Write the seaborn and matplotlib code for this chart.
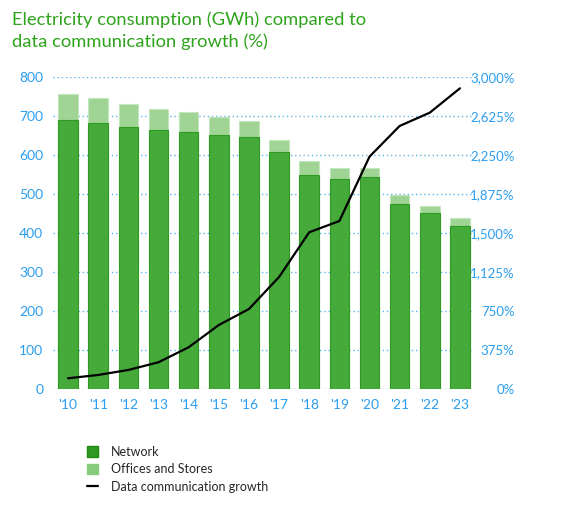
import numpy as np
import pandas as pd
import matplotlib.pyplot as plt
import seaborn as sns
from matplotlib.patches import Patch
from matplotlib.lines import Line2D

# data
years = ["'10", "'11", "'12", "'13", "'14", "'15", "'16", "'17", "'18", "'19", "'20", "'21", "'22", "'23"]
network = [689, 682, 672, 664, 659, 650, 645, 608, 548, 539, 544, 475, 450, 419]
total = [757, 746, 732, 719, 710, 697, 687, 639, 585, 567, 567, 498, 468, 438]
growth = [103, 135, 183, 257, 401, 615, 769, 1077, 1507, 1615, 2234, 2529, 2657, 2891]

left_ticks = [0, 100, 200, 300, 400, 500, 600, 700, 800]
right_ticks = [0, 375, 750, 1125, 1500, 1875, 2250, 2625, 3000]

blue = "#2b9ef0"
dark_green = "#2e9a22"
green = "#45aa39"
light_green = "#9fd495"
title_green = "#2ea31c"

df = pd.DataFrame({"year": years, "network": network, "total": total, "growth": growth})

sns.set_style("white")
plt.rcParams['font.family'] = ['Lato', 'DejaVu Sans']

fig = plt.figure(figsize=(5.76, 5.17), dpi=100)
ax = fig.add_axes([0.092, 0.2476, 0.729, 0.6035])

sns.barplot(data=df, x="year", y="total", color=light_green, saturation=1,
            width=0.65, edgecolor="#c4e6bd", linewidth=0.8, ax=ax)
sns.barplot(data=df, x="year", y="network", color=green, saturation=1,
            width=0.65, edgecolor=dark_green, linewidth=0.8, ax=ax)

ax.set_xlim(-0.5, 13.43)
ax.set_ylim(0, 800)
ax.set_yticks(left_ticks)
ax.set_yticklabels([str(t) for t in left_ticks])
ax.set_xlabel("")
ax.set_ylabel("")
ax.grid(axis="y", color="#5ab4ee", linestyle=(0, (1, 2)), linewidth=1)
ax.set_axisbelow(True)
ax.tick_params(axis="both", length=0, colors=blue, labelsize=10)
ax.tick_params(axis="y", pad=7)
ax.tick_params(axis="x", pad=7)
for s in ax.spines.values():
    s.set_visible(False)

ax2 = ax.twinx()
sns.lineplot(x=np.arange(len(years)), y=growth, color="black", linewidth=1.6, ax=ax2)
ax2.set_ylim(0, 3000)
ax2.set_yticks(right_ticks)
ax2.set_yticklabels([f"{t:,}%" for t in right_ticks], ha="right")
ax2.tick_params(axis="y", length=0, colors=blue, labelsize=9.5, pad=30)
ax2.set_xlim(-0.5, 13.43)
for s in ax2.spines.values():
    s.set_visible(False)

fig.text(0.021, 0.978, "Electricity consumption (GWh) compared to\ndata communication growth (%)",
         color=title_green, fontsize=13.2, va="top", ha="left", linespacing=1.4)

handles = [Patch(facecolor=dark_green, edgecolor="#1f8a12"),
           Patch(facecolor="#86cc7c", edgecolor="#86cc7c"),
           Line2D([0], [0], color="black", linewidth=1.6)]
labels = ["Network", "Offices and Stores", "Data communication growth"]
fig.legend(handles, labels, loc="upper left", bbox_to_anchor=(0.151, 0.138),
           frameon=False, fontsize=9, handlelength=0.9, handleheight=0.9,
           handletextpad=1.0, labelspacing=0.45, borderaxespad=0, borderpad=0)

fig.savefig("out.png", dpi=100)
